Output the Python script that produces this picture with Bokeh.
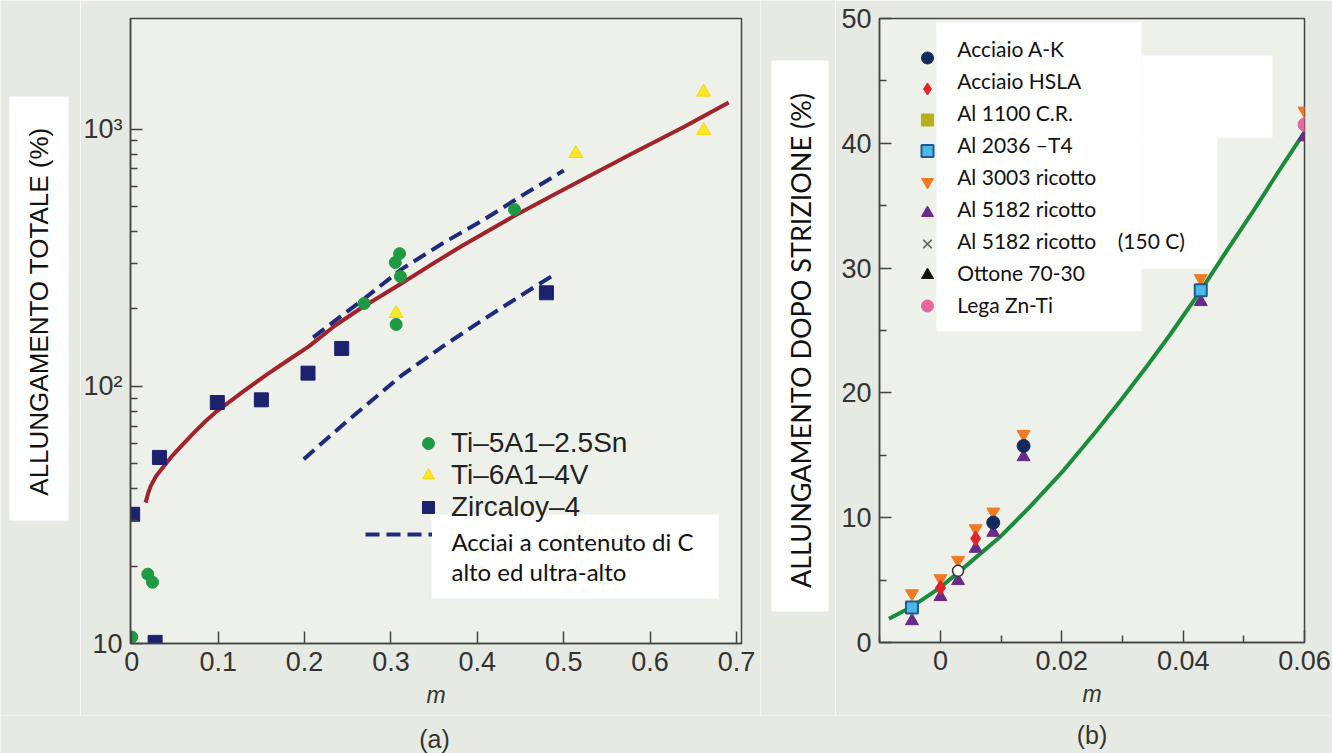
import math
from bokeh.plotting import figure
from bokeh.models import (Range1d, FixedTicker, Legend, LegendItem, BoxAnnotation, Label)
from bokeh.layouts import row, column
from bokeh.embed import file_html
from bokeh.resources import INLINE
from bokeh.core.properties import value

NAN = float("nan")

# ---------------- Panel (a): total elongation vs m (log scale) ----------------
ti5_m = [0.0, 0.0185, 0.024, 0.269, 0.305, 0.306, 0.310, 0.311, 0.443]
ti5_v = [10.6, 18.6, 17.3, 210, 303, 174, 328, 267, 487]
ti6_m = [0.306, 0.514, 0.662, 0.662]
ti6_v = [192, 804, 1393, 988]
zr_m = [0.001, 0.027, 0.032, 0.099, 0.150, 0.204, 0.243, 0.480]
zr_v = [31.8, 10.1, 52.9, 86.5, 88.6, 112.5, 140.3, 231]
fit_a_m = [0.016, 0.019, 0.022, 0.028, 0.035, 0.045, 0.055, 0.072, 0.085, 0.099, 0.130, 0.157,
           0.180, 0.205, 0.235, 0.266, 0.312, 0.350, 0.382, 0.443, 0.500, 0.582, 0.640, 0.691]
fit_a_v = [35.3, 38.5, 41.0, 44.7, 47.9, 52.8, 57.5, 66.1, 73.0, 80.3, 96.0, 111.5,
           125.7, 143, 172, 202, 251, 302, 351, 460, 582, 813, 1023, 1270]
steel_hi_m = [0.21, 0.24, 0.266, 0.312, 0.36, 0.41, 0.455, 0.50]
steel_hi_v = [155, 185, 215, 285, 360, 450, 560, 690]
steel_lo_m = [0.199, 0.25, 0.312, 0.36, 0.405, 0.45, 0.49]
steel_lo_v = [52.1, 73.6, 110, 143, 180, 225, 273]
a_xticks = [0, 0.1, 0.2, 0.3, 0.4, 0.5, 0.6, 0.7]
a_yticks = [10, 100, 1000]
a_ylabels = {10: "10", 100: "10²", 1000: "10³"}
a_yminor = [20, 30, 40, 50, 60, 70, 80, 90, 200, 300, 400, 500, 600, 700, 800, 900]
a_legend = ["Ti–5A1–2.5Sn", "Ti–6A1–4V", "Zircaloy–4"]

# ---------------- Panel (b): post-necking elongation vs m ----------------
b_groups_m = [-0.0047, 0.0, 0.0029, 0.0058, 0.0087, 0.0137, 0.0429, 0.06]
al3003_v = [3.93, 5.13, 6.6, 9.13, 10.47, 16.69, 29.17, 42.6]
al5182_v = [1.73, 3.66, 4.94, 7.53, 8.81, 14.87, 27.3, 40.5]
ak_m = [0.0087, 0.0137]
ak_v = [9.61, 15.75]
hsla_m = [0.0, 0.0058]
hsla_v = [4.38, 8.33]
al2036_m = [-0.0047, 0.0429]
al2036_v = [2.80, 28.23]
znti_m = [0.06]
znti_v = [41.5]
open_m = [0.0029]
open_v = [5.74]
fit_b_m = [-0.0085, -0.0047, 0.0, 0.0029, 0.006, 0.0099, 0.0148, 0.0203, 0.0258, 0.0297,
           0.0338, 0.0379, 0.0429, 0.0472, 0.0516, 0.0558, 0.06]
fit_b_v = [1.9, 2.87, 4.42, 5.6, 6.88, 8.5, 10.9, 13.8, 17.0, 19.4,
           22.0, 24.7, 28.2, 31.4, 34.6, 37.8, 40.9]
b_xticks = [0, 0.02, 0.04, 0.06]
b_xminor = [-0.01, 0.01, 0.03, 0.05]
b_yticks = [0, 10, 20, 30, 40, 50]
b_yminor = [5, 15, 25, 35, 45]
b_legend = ["Acciaio A-K", "Acciaio HSLA", "Al 1100 C.R.", "Al 2036 –T4", "Al 3003 ricotto",
            "Al 5182 ricotto", "Al 5182 ricotto \u00a0\u00a0\u00a0(150 C)", "Ottone 70-30", "Lega Zn-Ti"]
panel_tags = ["(a)", "(b)"]

BG = "#e7eae3"
PLOT_BG = "#edf1ea"
AX = "#444444"
TICK_FONT = "Liberation Sans"
H_TOT = 753
H = 715           # height of the plotting row
H_STRIP = H_TOT - H


def blank(w, h, y_top):
    """Empty canvas whose data coordinates equal page pixels (y measured from page top)."""
    s = figure(width=w, height=h, x_range=Range1d(0, w), y_range=Range1d(y_top + h, y_top),
               x_axis_location=None, y_axis_location=None, min_border=0,
               output_backend="svg", toolbar_location=None)
    s.frame_align = False
    s.outline_line_color = None
    s.border_fill_color = BG
    s.background_fill_color = BG
    s.grid.visible = False
    return s


def side_panel(w, box, text, center, font, size):
    s = blank(w, H, 0)
    l, r, t, b = box
    s.quad(left=[l], right=[r], top=[t], bottom=[b], fill_color="white", line_color=None)
    s.text(x=[center[0]], y=[center[1]], text=[text], angle=math.pi / 2,
           text_align="center", text_baseline="middle", text_font=value(font),
           text_font_size=value(size), text_color="#111111")
    return s


def style(p):
    p.frame_align = False
    p.border_fill_color = BG
    p.background_fill_color = PLOT_BG
    p.outline_line_color = AX
    p.outline_line_width = 1.5
    p.grid.visible = False
    for ax in (p.xaxis[0], p.yaxis[0]):
        ax.axis_line_color = AX
        ax.axis_line_width = 1.5
        ax.major_tick_line_color = AX
        ax.minor_tick_line_color = AX
        ax.major_tick_line_width = 1.5
        ax.minor_tick_line_width = 1.5
        ax.major_tick_in = 12
        ax.major_tick_out = 0
        ax.minor_tick_in = 7
        ax.minor_tick_out = 0
        ax.major_label_text_font = TICK_FONT
        ax.major_label_text_font_size = "27px"
        ax.major_label_text_color = "#333333"
        ax.major_label_standoff = 8
    xa = p.xaxis[0]
    xa.axis_label = "m"
    xa.axis_label_text_font = TICK_FONT
    xa.axis_label_text_font_style = "italic"
    xa.axis_label_text_font_size = "23px"
    xa.axis_label_text_color = "#333333"
    xa.axis_label_standoff = 8


# ---------------- figure (a) ----------------
WA = 680
A_L, A_R, A_T, A_B = 48, 19, 18, 72
pa = figure(width=WA, height=H, y_axis_type="log",
            x_range=Range1d(-0.0015, 0.7058), y_range=Range1d(10, 2692),
            output_backend="svg", toolbar_location=None,
            min_border_left=A_L, min_border_right=A_R, min_border_top=A_T, min_border_bottom=A_B)
a_fw, a_fh = WA - A_L - A_R, H - A_T - A_B
X0A = 80 + A_L  # page x of frame left


def ax_(px):
    return -0.0015 + (px - X0A) / a_fw * (0.7058 + 0.0015)


def ay_(py):
    lo, hi = 1.0, math.log10(2692)
    return 10 ** (lo + (A_T + a_fh - py) / a_fh * (hi - lo))


style(pa)
pa.xaxis[0].ticker = FixedTicker(ticks=a_xticks)
pa.yaxis[0].ticker = FixedTicker(ticks=a_yticks, minor_ticks=a_yminor)
pa.yaxis[0].major_label_overrides = a_ylabels

pa.line(fit_a_m, fit_a_v, line_color="#a1232b", line_width=4, line_join="round")
r_steel = pa.line(steel_hi_m, steel_hi_v, line_color="#1f2a7a", line_width=4, line_dash="14 7")
pa.line(steel_lo_m, steel_lo_v, line_color="#1f2a7a", line_width=4, line_dash="14 7")
r_ti6 = pa.scatter(ti6_m, ti6_v, marker="triangle", size=14, fill_color="#fbe62c", line_color="#f2d90f")
r_ti5 = pa.scatter(ti5_m, ti5_v, marker="circle", size=12, fill_color="#1e9a43", line_color="#1e9a43")
r_zr = pa.scatter(zr_m, zr_v, marker="square", size=14, fill_color="#1c226e", line_color="#1c226e")

leg_a = Legend(items=[LegendItem(label=t, renderers=[r]) for t, r in zip(a_legend, [r_ti5, r_ti6, r_zr])],
               location=(283, 120), glyph_width=30, glyph_height=30, label_height=30,
               spacing=0, padding=0, margin=0, label_standoff=8,
               border_line_color=None, background_fill_alpha=0,
               label_text_font=TICK_FONT, label_text_font_size="28px", label_text_color="#222222")
pa.add_layout(leg_a)
leg_a2 = Legend(items=[LegendItem(label=" ", renderers=[r_steel])],
                location=(235, 99), glyph_width=67, glyph_height=20, label_height=20,
                spacing=0, padding=0, margin=0, label_standoff=0,
                border_line_color=None, background_fill_alpha=0, label_text_font_size="6px")
pa.add_layout(leg_a2)
pa.add_layout(BoxAnnotation(left=ax_(430), right=ax_(718), top=ay_(514), bottom=ay_(598),
                            fill_color="white", fill_alpha=1, line_color=None))
pa.add_layout(Label(x=ax_(450), y=ay_(556), text="Acciai a contenuto di C\nalto ed ultra-alto",
                    text_align="left", text_baseline="middle", text_font="Lato",
                    text_font_size="24px", text_line_height=1.05, text_color="#111111"))

# ---------------- figure (b) ----------------
WB = 497
B_L, B_R, B_T, B_B = 44, 28, 18, 73
pb = figure(width=WB, height=H, x_range=Range1d(-0.01005, 0.06), y_range=Range1d(0, 50),
            output_backend="svg", toolbar_location=None,
            min_border_left=B_L, min_border_right=B_R, min_border_top=B_T, min_border_bottom=B_B)
b_fw, b_fh = WB - B_L - B_R, H - B_T - B_B
X0B = 835 + B_L


def bx_(px):
    return -0.01005 + (px - X0B) / b_fw * (0.06 + 0.01005)


def by_(py):
    return (B_T + b_fh - py) / b_fh * 50


style(pb)
pb.xaxis[0].ticker = FixedTicker(ticks=b_xticks, minor_ticks=b_xminor)
pb.yaxis[0].ticker = FixedTicker(ticks=b_yticks, minor_ticks=b_yminor)

for (l, r, t, b) in [(936, 1141, 21.7, 330.7), (1141, 1272, 55, 137.3), (1141, 1217, 137.3, 268.3)]:
    pb.add_layout(BoxAnnotation(left=bx_(l), right=bx_(r), top=by_(t), bottom=by_(b),
                                fill_color="white", fill_alpha=1, line_color=None, level="underlay"))

pb.line(fit_b_m, fit_b_v, line_color="#1b8b3c", line_width=4, line_join="round")
r_3003 = pb.scatter(b_groups_m, al3003_v, marker="inverted_triangle", size=13, fill_color="#f07a22", line_color="#f07a22")
r_5182 = pb.scatter(b_groups_m, al5182_v, marker="triangle", size=13, fill_color="#6a2a88", line_color="#6a2a88")
r_ak = pb.scatter(ak_m, ak_v, marker="circle", size=13, fill_color="#132b5c", line_color="#132b5c")
r_hsla = pb.scatter(hsla_m, hsla_v, marker="diamond", size=15, fill_color="#e0232b", line_color="#e0232b")
r_2036 = pb.scatter(al2036_m, al2036_v, marker="square", size=12, fill_color="#4cb8e8", line_color="#215a8c", line_width=2)
r_zn = pb.scatter(znti_m, znti_v, marker="circle", size=13, fill_color="#e6679e", line_color="#e6679e")
pb.scatter(open_m, open_v, marker="circle", size=11, fill_color="white", line_color="#333333", line_width=1.5)
# series listed in the legend but without visible points
r_1100 = pb.scatter([NAN], [NAN], marker="square", size=12, fill_color="#b8ae1c", line_color="#b8ae1c")
r_5182b = pb.scatter([NAN], [NAN], marker="x", size=12, line_color="#555555", line_width=1.5)
r_ott = pb.scatter([NAN], [NAN], marker="triangle", size=12, fill_color="#111111", line_color="#111111")

b_rends = [r_ak, r_hsla, r_1100, r_2036, r_3003, r_5182, r_5182b, r_ott, r_zn]
leg_b = Legend(items=[LegendItem(label=" ", renderers=[r], index=0) for r in b_rends],
               location=(33, 321), glyph_width=30, glyph_height=31, label_height=31,
               spacing=0, padding=0, margin=0, label_standoff=0,
               border_line_color=None, background_fill_alpha=0, label_text_font_size="6px")
pb.add_layout(leg_b)
for i, t in enumerate(b_legend):
    pb.add_layout(Label(x=bx_(956.7), y=by_(48.3 + i * 31.96), text=t, text_align="left",
                        text_baseline="middle", text_font="Lato", text_font_size="21px",
                        text_color="#111111"))

# ---------------- side strips with the y-axis titles ----------------
sa = side_panel(80, (9, 68, 96, 520), "ALLUNGAMENTO TOTALE (%)", (38.5, 311), TICK_FONT, "26px")
sb = side_panel(75, (11, 68, 60, 611), "ALLUNGAMENTO DOPO STRIZIONE (%)", (39.5, 340), "Lato", "27px")

# ---------------- bottom strip with the panel tags ----------------
st = blank(80 + WA + 75 + WB, H_STRIP, H)
st.text(x=[434, 1091.5], y=[738, 734], text=panel_tags, text_align="center", text_baseline="middle",
        text_font=value(TICK_FONT), text_font_size=value("25px"), text_color="#333333")

layout = column(row(sa, pa, sb, pb, spacing=0), st, spacing=0)
open("out.html", "w").write(file_html(layout, INLINE))
